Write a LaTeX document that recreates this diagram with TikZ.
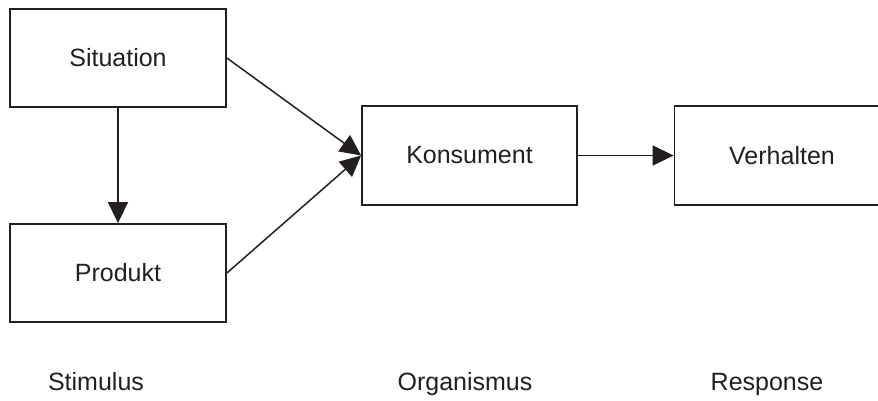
\documentclass[tikz,border=0pt]{standalone}
\usepackage{fontspec}
\setmainfont{Liberation Sans}
\usepackage{tikz}
\usetikzlibrary{arrows.meta}
\definecolor{ink}{HTML}{231F20}

\begin{document}
\begin{tikzpicture}[x=1pt, y=-1pt, font=\fontsize{25}{30}\selectfont,
		box/.style={draw=ink, line width=1.8pt, minimum width=216pt, minimum height=98pt, inner sep=0pt, text=ink},
		lab/.style={anchor=base, text=ink},
		flow/.style={draw=ink, line width=1.5pt, -{Triangle[length=21pt, width=20pt]}}]
			\useasboundingbox (0,0) rectangle (878,400);
			\clip (0,0) rectangle (878,400);
			\node[box] (sit) at (118,58) {Situation};
			\node[box] (prod) at (118,273) {Produkt};
			\node[box, minimum width=215pt, minimum height=99pt] (kons) at (469.5,155.5) {Konsument};
			\node[box, minimum width=215pt, minimum height=99pt] (verh) at (782,155.5) {Verhalten};
			\node[lab] (stim) at (96,390) {Stimulus};
			\node[lab] (org) at (465,390) {Organismus};
			\node[lab] (resp) at (767,390) {Response};
			\draw[flow] (sit) -- (prod);
			\draw[flow] (sit.east) -- (kons.west);
			\draw[flow] (prod.east) -- (kons.west);
			\draw[flow] (kons) -- (verh);
		\end{tikzpicture}
\end{document}
